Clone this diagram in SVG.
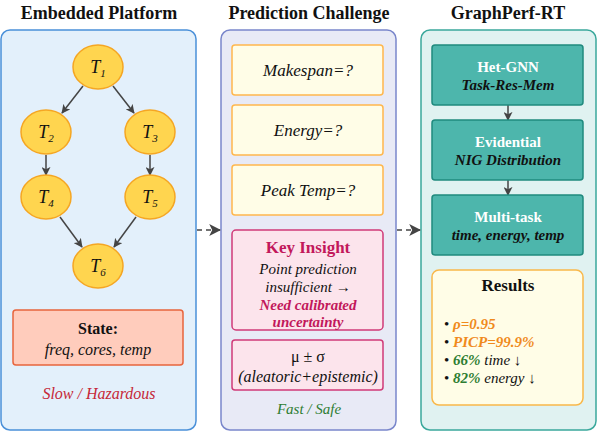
<svg xmlns="http://www.w3.org/2000/svg" width="599" height="432" viewBox="0 0 599 432" font-family="'Liberation Serif', 'Times New Roman', 'DejaVu Serif', serif">
<defs>
<marker id="ah" viewBox="0 0 10 10" refX="9" refY="5" markerWidth="9" markerHeight="9" orient="auto" markerUnits="userSpaceOnUse">
<path d="M0,0 L10,5 L0,10 L2.5,5 z" fill="#444"/>
</marker>
<marker id="ah2" viewBox="0 0 10 10" refX="9" refY="5" markerWidth="12" markerHeight="12" orient="auto" markerUnits="userSpaceOnUse">
<path d="M0,0 L10,5 L0,10 L2.5,5 z" fill="#444"/>
</marker>
<style>
text{text-anchor:middle;fill:#111}
.title{font-size:18px;font-weight:bold}
.it{font-style:italic}
.b{font-weight:bold}
.task{fill:#ffd54f;stroke:#f5a623;stroke-width:1.5}
.q{fill:#fffde7;stroke:#ffb74d;stroke-width:1.5}
.pink{fill:#fce4ec;stroke:#d03a78;stroke-width:1.5}
.teal{fill:#4db6ac;stroke:#1f8a7e;stroke-width:1.5}
.edge{stroke:#444;stroke-width:1.5;fill:none}
.wt{fill:#fff;font-weight:bold;font-size:15px}
.st{fill:#111;font-weight:bold;font-style:italic;font-size:15px}
</style>
</defs>

<g id="panel-embedded">
<text class="title" x="99" y="19">Embedded Platform</text>
<rect x="1" y="30" width="195" height="400" rx="9" fill="#e3f0fb" stroke="#4a90d9" stroke-width="1.5"/>
</g>
<g id="panel-prediction">
<text class="title" x="309" y="19">Prediction Challenge</text>
<rect x="221" y="30" width="175" height="400" rx="9" fill="#e8eaf6" stroke="#7986cb" stroke-width="1.5"/>
</g>
<g id="panel-graphperf">
<text class="title" x="508" y="19">GraphPerf-RT</text>
<rect x="421" y="30" width="175" height="400" rx="9" fill="#e0f2f1" stroke="#3aa89c" stroke-width="1.5"/>
</g>

<g id="connectors">
<line class="edge" x1="83" y1="86" x2="62" y2="113" marker-end="url(#ah)"/>
<line class="edge" x1="113" y1="86" x2="134" y2="113" marker-end="url(#ah)"/>
<line class="edge" x1="46" y1="155" x2="46" y2="175" marker-end="url(#ah)"/>
<line class="edge" x1="150" y1="155" x2="150" y2="175" marker-end="url(#ah)"/>
<line class="edge" x1="60" y1="217" x2="82" y2="247" marker-end="url(#ah)"/>
<line class="edge" x1="136" y1="217" x2="114" y2="247" marker-end="url(#ah)"/>
<line class="edge" x1="508" y1="105" x2="508" y2="120" marker-end="url(#ah)"/>
<line class="edge" x1="508" y1="180" x2="508" y2="195" marker-end="url(#ah)"/>
<line class="edge" x1="197" y1="230" x2="220" y2="230" stroke-dasharray="5,4" marker-end="url(#ah2)"/>
<line class="edge" x1="397" y1="230" x2="420" y2="230" stroke-dasharray="5,4" marker-end="url(#ah2)"/>
</g>

<g id="T1"><ellipse class="task" cx="98" cy="67" rx="25" ry="22"/><text class="it" x="98" y="73" font-size="18">T<tspan font-size="11" dy="4">1</tspan></text></g>
<g id="T2"><ellipse class="task" cx="46" cy="132" rx="25" ry="22"/><text class="it" x="46" y="138" font-size="18">T<tspan font-size="11" dy="4">2</tspan></text></g>
<g id="T3"><ellipse class="task" cx="150" cy="132" rx="25" ry="22"/><text class="it" x="150" y="138" font-size="18">T<tspan font-size="11" dy="4">3</tspan></text></g>
<g id="T4"><ellipse class="task" cx="46" cy="197" rx="25" ry="22"/><text class="it" x="46" y="203" font-size="18">T<tspan font-size="11" dy="4">4</tspan></text></g>
<g id="T5"><ellipse class="task" cx="150" cy="197" rx="25" ry="22"/><text class="it" x="150" y="203" font-size="18">T<tspan font-size="11" dy="4">5</tspan></text></g>
<g id="T6"><ellipse class="task" cx="98" cy="266" rx="25" ry="22"/><text class="it" x="98" y="272" font-size="18">T<tspan font-size="11" dy="4">6</tspan></text></g>

<g id="state">
<rect x="13" y="310" width="170" height="55" rx="3" fill="#ffccbc" stroke="#e8643c" stroke-width="1.5"/>
<text class="b" x="98" y="334" font-size="16">State:</text>
<text class="it" x="98" y="355" font-size="16">freq, cores, temp</text>
</g>
<g id="slow"><text class="it" x="99" y="399" font-size="16" style="fill:#c62838">Slow / Hazardous</text></g>

<g id="makespan"><rect class="q" x="232" y="45" width="151" height="50" rx="3"/><text class="it" x="308" y="76" font-size="17">Makespan=?</text></g>
<g id="energy"><rect class="q" x="232" y="105" width="151" height="50" rx="3"/><text class="it" x="308" y="136" font-size="17">Energy=?</text></g>
<g id="peaktemp"><rect class="q" x="232" y="165" width="151" height="50" rx="3"/><text class="it" x="308" y="196" font-size="17">Peak Temp=?</text></g>
<g id="insight">
<rect class="pink" x="232" y="230" width="151" height="100" rx="4"/>
<text class="b" x="308" y="253" font-size="17" style="fill:#c2185b">Key Insight</text>
<text class="it" x="308" y="274" font-size="15">Point prediction</text>
<text class="it" x="308" y="292" font-size="15">insufficient →</text>
<text class="it b" x="308" y="310" font-size="15" style="fill:#c2185b">Need calibrated</text>
<text class="it b" x="308" y="327" font-size="15" style="fill:#c2185b">uncertainty</text>
</g>
<g id="musigma">
<rect class="pink" x="232" y="340" width="151" height="50" rx="3"/>
<text x="308" y="362" font-size="16">μ ± σ</text>
<text class="it" x="308" y="382" font-size="16">(aleatoric+epistemic)</text>
</g>
<g id="fast"><text class="it" x="309" y="414" font-size="15" style="fill:#2e7d32">Fast / Safe</text></g>

<g id="hetgnn"><rect class="teal" x="432" y="45" width="151" height="60" rx="3"/><text class="wt" x="508" y="72">Het-GNN</text><text class="st" x="508" y="90">Task-Res-Mem</text></g>
<g id="evidential"><rect class="teal" x="432" y="120" width="151" height="60" rx="3"/><text class="wt" x="508" y="147">Evidential</text><text class="st" x="508" y="165">NIG Distribution</text></g>
<g id="multitask"><rect class="teal" x="432" y="195" width="151" height="60" rx="3"/><text class="wt" x="508" y="222">Multi-task</text><text class="st" x="508" y="240">time, energy, temp</text></g>

<g id="results">
<rect x="432" y="270" width="151" height="135" rx="7" fill="#fffde7" stroke="#f9b84a" stroke-width="1.5"/>
<text class="b" x="508" y="291" font-size="17">Results</text>
<g font-size="15">
<text x="444" y="329" style="text-anchor:start">• <tspan class="it b" style="fill:#f08a1c">ρ=0.95</tspan></text>
<text x="444" y="347" style="text-anchor:start">• <tspan class="it b" style="fill:#f08a1c">PICP=99.9%</tspan></text>
<text x="444" y="365" style="text-anchor:start">• <tspan class="it b" style="fill:#2e7d32">66%</tspan> <tspan class="it">time ↓</tspan></text>
<text x="444" y="383" style="text-anchor:start">• <tspan class="it b" style="fill:#2e7d32">82%</tspan> <tspan class="it">energy ↓</tspan></text>
</g>
</g>
</svg>
